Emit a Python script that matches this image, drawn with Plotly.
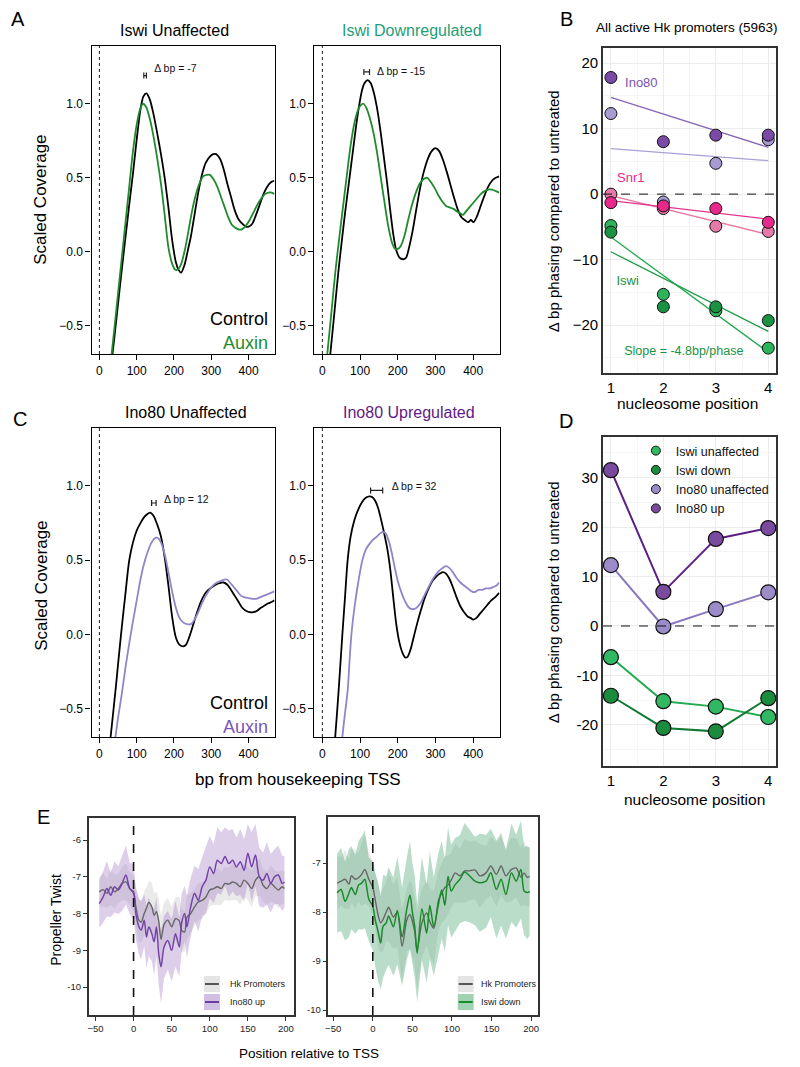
import numpy as np
import plotly.graph_objects as go

W, H = 800, 1067
FONT = "Liberation Sans, Arial, Helvetica, sans-serif"
OFF = 8  # page body margin of the browser

def pxx(x):
    return (x - OFF) / W

def pxy(y):
    return 1 - (y - OFF) / H

# ---------------- Panel A data (Iswi) ----------------
a1_ctrl_x = [30,40,50,60,70,80,90,100,110,118,126,135,145,155,165,175,185,195,205,212,219,228,238,245,255,265,275,285,295,305,313,323,333,343,353,363,373,383,393,400,410,420,430,440,450,460,469]
a1_ctrl_y = [-0.80,-0.58,-0.35,-0.12,0.10,0.32,0.53,0.76,0.96,1.05,1.07,1.03,0.93,0.80,0.66,0.50,0.30,0.08,-0.07,-0.12,-0.14,-0.09,0.02,0.10,0.25,0.40,0.52,0.60,0.64,0.66,0.66,0.63,0.56,0.46,0.37,0.28,0.22,0.19,0.17,0.17,0.19,0.25,0.32,0.39,0.44,0.47,0.48]
a1_aux_x = [28,40,50,60,70,80,90,100,110,117,125,135,145,155,165,175,185,195,203,210,218,228,238,248,258,268,278,288,296,306,316,326,336,346,356,366,376,384,394,404,414,424,434,444,454,462,469]
a1_aux_y = [-0.80,-0.52,-0.28,-0.04,0.20,0.44,0.68,0.86,0.97,1.00,0.98,0.90,0.78,0.63,0.46,0.25,0.03,-0.08,-0.12,-0.12,-0.09,0.00,0.13,0.27,0.38,0.46,0.51,0.52,0.52,0.49,0.44,0.37,0.30,0.23,0.18,0.16,0.15,0.155,0.18,0.22,0.27,0.32,0.36,0.39,0.40,0.40,0.39]

a2_ctrl_x = [15,21,30,43,50,60,72,80,90,97,105,112,120,128,136,145,155,165,172,180,188,196,205,215,222,230,240,250,260,270,280,290,300,310,320,330,340,350,360,370,380,387,394,401,410,420,430,440,450,460,469]
a2_ctrl_y = [-0.84,-0.69,-0.46,-0.12,0.04,0.26,0.50,0.66,0.86,0.98,1.09,1.14,1.16,1.14,1.08,0.97,0.80,0.60,0.46,0.28,0.12,0.01,-0.04,-0.05,-0.04,0.03,0.15,0.30,0.44,0.55,0.63,0.68,0.70,0.68,0.62,0.54,0.45,0.36,0.28,0.23,0.21,0.20,0.215,0.20,0.24,0.31,0.38,0.44,0.48,0.50,0.51]
a2_aux_x = [8,13,25,35,45,55,65,75,85,95,102,109,117,125,135,145,155,165,175,185,193,200,208,218,228,238,248,258,268,278,288,298,308,318,328,338,348,358,366,373,380,390,400,410,420,430,440,450,460,469]
a2_aux_y = [-0.82,-0.69,-0.38,-0.12,0.10,0.31,0.52,0.72,0.87,0.96,0.99,1.00,0.97,0.91,0.81,0.67,0.50,0.33,0.17,0.06,0.02,0.02,0.04,0.11,0.22,0.32,0.40,0.46,0.49,0.50,0.47,0.43,0.38,0.34,0.31,0.30,0.29,0.27,0.26,0.25,0.27,0.30,0.33,0.36,0.39,0.41,0.42,0.42,0.41,0.40]

# ---------------- Panel C data (Ino80) ----------------
c1_ctrl_x = [25,30,43,50,60,70,80,90,100,110,120,128,136,145,155,165,175,185,195,205,215,225,232,242,252,262,272,282,292,302,312,322,333,343,353,363,373,383,393,403,413,423,433,443,453,463,469]
c1_ctrl_y = [-0.82,-0.69,-0.38,-0.20,0.05,0.28,0.50,0.62,0.70,0.75,0.79,0.81,0.82,0.80,0.74,0.66,0.52,0.33,0.12,-0.02,-0.07,-0.08,-0.07,-0.01,0.07,0.15,0.22,0.27,0.30,0.32,0.335,0.345,0.35,0.335,0.30,0.26,0.22,0.18,0.16,0.15,0.15,0.16,0.18,0.195,0.21,0.22,0.23]
c1_aux_x = [38,43,50,60,70,80,90,100,110,120,130,140,150,157,165,175,185,195,205,215,225,235,245,255,265,275,285,295,305,315,325,335,342,350,360,370,380,390,400,410,420,430,440,450,460,469]
c1_aux_y = [-0.78,-0.69,-0.56,-0.40,-0.22,-0.06,0.09,0.23,0.37,0.48,0.56,0.62,0.65,0.65,0.62,0.54,0.42,0.29,0.18,0.11,0.08,0.07,0.07,0.10,0.15,0.21,0.26,0.30,0.33,0.35,0.36,0.37,0.37,0.35,0.32,0.29,0.26,0.25,0.245,0.24,0.24,0.25,0.26,0.27,0.28,0.29]

c2_ctrl_x = [28,34,43,53,60,67,75,85,95,105,115,125,132,140,148,156,164,172,180,188,196,204,212,220,226,234,242,252,262,272,282,292,302,312,320,328,336,346,356,366,376,386,394,400,408,418,428,438,448,458,469]
c2_ctrl_y = [-0.85,-0.69,-0.38,0.0,0.25,0.50,0.66,0.77,0.84,0.89,0.92,0.93,0.925,0.90,0.85,0.77,0.68,0.58,0.44,0.25,0.07,-0.05,-0.12,-0.155,-0.15,-0.10,-0.02,0.08,0.17,0.25,0.31,0.36,0.39,0.41,0.42,0.41,0.38,0.32,0.25,0.19,0.15,0.12,0.11,0.10,0.11,0.14,0.17,0.20,0.23,0.25,0.28]
c2_aux_x = [48,53,60,67,72,77,85,95,106,115,125,135,145,153,160,168,176,184,192,200,210,220,230,240,250,260,270,280,290,300,310,320,328,336,346,356,366,376,386,396,404,414,424,434,444,454,462,469]
c2_aux_y = [-0.85,-0.69,-0.53,-0.38,-0.18,0.0,0.18,0.35,0.50,0.57,0.61,0.64,0.66,0.68,0.69,0.68,0.63,0.55,0.45,0.36,0.28,0.22,0.18,0.17,0.18,0.21,0.26,0.31,0.36,0.40,0.43,0.45,0.46,0.45,0.42,0.38,0.35,0.33,0.31,0.29,0.285,0.30,0.30,0.31,0.31,0.32,0.33,0.35]

# brackets (control peak -> auxin peak) and labels
brk_lo = [119, 110, 140, 128]
brk_hi = [126, 125, 152, 160]
brk_y = [1.19, 1.215, 0.885, 0.97]
delta_text = ["Δ bp = -7", "Δ bp = -15", "Δ bp = 12", "Δ bp = 32"]
delta_x = [147, 145, 173, 184]
delta_y = [1.235, 1.215, 0.905, 0.99]

# ---------------- Panel B data ----------------
nuc_pos = [1, 2, 3, 4]
b_ino80_dark = [17.8, 8.0, 9.0, 9.0]
b_ino80_light = [12.3, -1.2, 4.7, 8.3]
b_snr1_dark = [-1.3, -1.8, -2.2, -4.3]
b_snr1_light = [0.0, -2.2, -4.9, -5.7]
b_iswi_dark = [-5.8, -17.2, -17.2, -19.3]
b_iswi_light = [-4.8, -15.3, -17.8, -23.5]

# ---------------- Panel D data ----------------
d_names = ["Iswi unaffected", "Iswi down", "Ino80 unaffected", "Ino80 up"]
d_iswi_unaff = [-6.3, -15.2, -16.3, -18.4]
d_iswi_down = [-14.1, -20.6, -21.3, -14.6]
d_ino80_unaff = [12.3, -0.1, 3.4, 6.8]
d_ino80_up = [31.5, 6.9, 17.6, 19.8]

# ---------------- Panel E data ----------------
e1_x = [-45,-40,-35,-30,-25,-20,-15,-10,-5,0,3,7,10,14,17,20,24,27,30,33,36,40,45,50,55,60,63,67,70,75,80,85,90,95,100,105,110,115,120,125,130,135,140,145,150,155,160,165,170,175,180,185,190,195,198]
e1_hk = [-7.41,-7.35,-7.45,-7.27,-7.41,-7.32,-7.18,-7.14,-7.32,-7.45,-7.82,-8.18,-8.23,-8.0,-7.85,-7.7,-7.82,-8.05,-7.95,-8.2,-8.7,-8.3,-8.18,-8.36,-8.14,-8.2,-8.45,-8.5,-8.1,-8.0,-7.82,-7.68,-7.64,-7.55,-7.36,-7.32,-7.27,-7.32,-7.18,-7.2,-7.14,-7.18,-7.27,-7.09,-7.18,-7.32,-7.09,-7.0,-7.23,-7.32,-7.18,-7.27,-7.36,-7.27,-7.32]
e1_ino = [-7.73,-7.55,-7.32,-7.5,-7.27,-7.36,-7.18,-6.95,-7.32,-7.41,-8.0,-8.36,-8.45,-8.18,-8.64,-8.36,-8.55,-8.77,-8.36,-9.09,-9.45,-8.91,-8.73,-9.0,-8.55,-8.91,-8.27,-8.0,-8.36,-7.82,-7.45,-7.64,-7.27,-7.09,-6.73,-6.91,-6.55,-6.64,-6.45,-6.64,-6.55,-6.73,-6.59,-6.82,-6.36,-6.73,-6.41,-7.0,-7.09,-6.91,-7.18,-7.0,-6.95,-7.18,-7.14]
e1_hk_hw = [0.4,0.45,0.4,0.5,0.45,0.4,0.45,0.5,0.45,0.5,0.55,0.6,0.55,0.6,0.55,0.6,0.65,0.6,0.55,0.6,0.65,0.6,0.6,0.55,0.6,0.65,0.6,0.55,0.6,0.55,0.5,0.5,0.5,0.45,0.45,0.45,0.5,0.45,0.45,0.45,0.5,0.45,0.5,0.45,0.45,0.5,0.45,0.5,0.45,0.45,0.5,0.45,0.5,0.45,0.45]
e1_ino_hw = [0.65,0.7,0.75,0.6,0.7,0.65,0.75,0.8,0.7,0.75,0.7,0.75,0.8,0.7,0.85,0.8,0.75,0.9,0.8,0.85,1.0,0.85,0.8,0.85,0.9,0.8,0.8,0.75,0.85,0.8,0.75,0.85,0.8,0.9,0.85,0.8,0.9,0.85,0.8,0.9,0.85,0.8,0.9,0.85,0.8,0.95,0.85,0.8,0.75,0.85,0.8,0.75,0.8,0.75,0.7]

e2_x = [-45,-40,-35,-30,-27,-22,-18,-14,-10,-5,0,3,7,10,13,17,20,26,31,37,43,47,50,53,56,62,68,72,77,83,87,91,95,99,104,110,116,122,129,135,143,149,156,162,168,175,181,187,191,195,198]
e2_hk = [-7.41,-7.37,-7.33,-7.43,-7.26,-7.33,-7.3,-7.23,-7.13,-7.33,-7.5,-7.74,-8.08,-8.22,-8.15,-8.0,-7.9,-8.1,-8.0,-8.7,-8.16,-8.05,-8.19,-8.4,-8.78,-8.22,-8.02,-8.2,-8.33,-7.76,-7.62,-7.5,-7.45,-7.35,-7.2,-7.26,-7.16,-7.16,-7.14,-7.26,-7.2,-7.06,-7.23,-7.06,-7.26,-7.13,-7.1,-7.29,-7.2,-7.29,-7.27]
e2_iswi = [-7.61,-7.54,-7.78,-7.61,-7.5,-7.64,-7.45,-7.41,-7.33,-7.74,-7.88,-8.15,-8.42,-8.63,-8.29,-8.22,-8.08,-8.3,-7.97,-8.5,-7.93,-7.65,-8.0,-8.3,-8.84,-7.93,-8.43,-7.86,-8.3,-7.83,-7.55,-7.86,-7.27,-7.57,-7.44,-7.33,-7.18,-7.26,-7.37,-7.4,-7.37,-7.2,-7.54,-7.33,-7.64,-7.2,-7.37,-7.13,-7.57,-7.6,-7.58]
e2_hk_hw = [0.55,0.5,0.6,0.5,0.55,0.6,0.5,0.65,0.7,0.55,0.55,0.6,0.65,0.6,0.65,0.6,0.7,0.65,0.7,0.75,0.65,0.7,0.75,0.7,0.8,0.7,0.65,0.7,0.75,0.6,0.6,0.65,0.6,0.55,0.6,0.55,0.65,0.6,0.6,0.65,0.55,0.6,0.65,0.6,0.55,0.65,0.6,0.6,0.65,0.6,0.6]
e2_iswi_hw = [0.8,0.85,0.8,0.9,0.85,0.8,0.9,0.95,1.0,0.85,0.9,0.95,1.0,0.95,1.05,0.95,1.0,1.0,1.1,1.0,1.05,1.1,1.0,1.05,1.0,1.05,1.0,1.1,1.0,1.05,1.0,0.95,1.0,0.95,0.95,0.9,1.0,0.95,0.9,1.0,0.95,0.9,1.0,0.95,0.9,1.0,0.95,1.0,0.9,0.95,0.9]

# ---------------- Colours ----------------
BLACK = "#000000"
AUX_GREEN = "#1f8b2c"
AUX_PURPLE = "#9384c8"

fig = go.Figure()

def line(x, y, xa, ya, color, width=1.8, shape="spline"):
    fig.add_trace(go.Scatter(x=x, y=y, mode="lines", xaxis=xa, yaxis=ya,
                             line=dict(color=color, width=width, shape=shape, smoothing=0.8),
                             showlegend=False, hoverinfo="skip"))

# coverage panels
cov = [
    ("x", "y", a1_ctrl_x, a1_ctrl_y, a1_aux_x, a1_aux_y, AUX_GREEN),
    ("x2", "y2", a2_ctrl_x, a2_ctrl_y, a2_aux_x, a2_aux_y, AUX_GREEN),
    ("x4", "y4", c1_ctrl_x, c1_ctrl_y, c1_aux_x, c1_aux_y, AUX_PURPLE),
    ("x5", "y5", c2_ctrl_x, c2_ctrl_y, c2_aux_x, c2_aux_y, AUX_PURPLE),
]
for i, (xa, ya, cx, cy, ax, ay, col) in enumerate(cov):
    line(cx, cy, xa, ya, BLACK, 1.8)
    line(ax, ay, xa, ya, col, 1.8)
    lo, hi = brk_lo[i], brk_hi[i]
    fig.add_trace(go.Scatter(x=[(lo + hi) / 2], y=[brk_y[i]], mode="markers", xaxis=xa, yaxis=ya,
                             marker=dict(size=1, color="rgba(0,0,0,0)"),
                             error_x=dict(type="data", array=[(hi - lo) / 2], width=3,
                                          thickness=1.2, color="#222"),
                             showlegend=False, hoverinfo="skip"))
    fig.add_trace(go.Scatter(x=[delta_x[i]], y=[delta_y[i]], mode="text", xaxis=xa, yaxis=ya,
                             text=[delta_text[i]], textposition="middle right",
                             textfont=dict(size=10.5, color="#111", family=FONT),
                             showlegend=False, hoverinfo="skip"))

# ---------------- Panel B ----------------
b_series = [
    (b_ino80_light, "#a79bd2", "#ab9fd8"),
    (b_ino80_dark, "#7b4aa6", "#8767b8"),
    (b_snr1_light, "#e57aa8", "#e8779f"),
    (b_snr1_dark, "#e8288a", "#e3338e"),
    (b_iswi_light, "#2db35c", "#21a84e"),
    (b_iswi_dark, "#1a9243", "#1f9a46"),
]
for vals, mcol, lcol in b_series:
    k, b0 = np.polyfit(nuc_pos, vals, 1)
    fx = np.array([nuc_pos[0], nuc_pos[-1]], dtype=float)
    fig.add_trace(go.Scatter(x=fx, y=k * fx + b0, mode="lines", xaxis="x3", yaxis="y3",
                             line=dict(color=lcol, width=1.3), showlegend=False, hoverinfo="skip"))
for vals, mcol, lcol in b_series:
    fig.add_trace(go.Scatter(x=nuc_pos, y=vals, mode="markers", xaxis="x3", yaxis="y3",
                             marker=dict(size=12, color=mcol, line=dict(color="#111", width=1)),
                             showlegend=False, hoverinfo="skip"))

b_labels = [("Ino80", 1.58, 16.9, "#7d4fb0"), ("Snr1", 1.38, 2.4, "#e8288a"),
            ("Iswi", 1.32, -13.4, "#1a9243")]
for t, lx, ly, c in b_labels:
    fig.add_trace(go.Scatter(x=[lx], y=[ly], mode="text", text=[t], xaxis="x3", yaxis="y3",
                             textfont=dict(size=13, color=c, family=FONT),
                             showlegend=False, hoverinfo="skip"))
fig.add_trace(go.Scatter(x=[2.39], y=[-24.0], mode="text", text=["Slope = -4.8bp/phase"],
                         xaxis="x3", yaxis="y3", textfont=dict(size=12.5, color="#1a9243", family=FONT),
                         showlegend=False, hoverinfo="skip"))

# ---------------- Panel D ----------------
d_series = [
    (d_iswi_unaff, "#30b862", "#22ab50"),
    (d_iswi_down, "#1b8c3e", "#137a33"),
    (d_ino80_unaff, "#9c8bc9", "#8a77c2"),
    (d_ino80_up, "#7a4a9e", "#5a1e84"),
]
for vals, mcol, lcol in d_series:
    fig.add_trace(go.Scatter(x=nuc_pos, y=vals, mode="lines", xaxis="x6", yaxis="y6",
                             line=dict(color=lcol, width=2), showlegend=False, hoverinfo="skip"))
for vals, mcol, lcol in d_series:
    fig.add_trace(go.Scatter(x=nuc_pos, y=vals, mode="markers", xaxis="x6", yaxis="y6",
                             marker=dict(size=15, color=mcol, line=dict(color="#111", width=1.2)),
                             showlegend=False, hoverinfo="skip"))
for name, (vals, mcol, lcol) in zip(d_names, d_series):
    fig.add_trace(go.Scatter(x=[None], y=[None], mode="markers", xaxis="x6", yaxis="y6", name=name,
                             marker=dict(size=9, color=mcol, line=dict(color="#111", width=1)),
                             showlegend=True))

# ---------------- Panel E ----------------
def ribbon(x, y, hw, xa, ya, color):
    y = np.array(y); hw = np.array(hw)
    up = y + hw; lo = y - hw
    fig.add_trace(go.Scatter(x=list(x) + list(x)[::-1], y=list(up) + list(lo)[::-1],
                             mode="lines", fill="toself", fillcolor=color, line=dict(width=0),
                             xaxis=xa, yaxis=ya, showlegend=False, hoverinfo="skip"))

ribbon(e1_x, e1_hk, e1_hk_hw, "x7", "y7", "rgba(222,222,222,0.65)")
ribbon(e1_x, e1_ino, e1_ino_hw, "x7", "y7", "rgba(165,130,200,0.38)")
line(e1_x, e1_hk, "x7", "y7", "#666666", 1.4)
line(e1_x, e1_ino, "x7", "y7", "#7444a8", 1.5)

ribbon(e2_x, e2_hk, e2_hk_hw, "x8", "y8", "rgba(222,222,222,0.65)")
ribbon(e2_x, e2_iswi, e2_iswi_hw, "x8", "y8", "rgba(70,165,110,0.38)")
line(e2_x, e2_hk, "x8", "y8", "#666666", 1.4)
line(e2_x, e2_iswi, "x8", "y8", "#1a8a2a", 1.5)

# ---------------- Axes ----------------
def cov_x(l, r, anchor):
    return dict(domain=[pxx(l), pxx(r)], range=[-21, 470], tickvals=[0, 100, 200, 300, 400],
                showline=True, linecolor="black", linewidth=1.3, mirror=True, ticks="outside",
                ticklen=5, tickcolor="black", showgrid=False, zeroline=False,
                tickfont=dict(size=12, color="black", family=FONT), anchor=anchor)

def cov_y(t, b, anchor):
    return dict(domain=[pxy(b), pxy(t)], range=[-0.69, 1.39], tickvals=[-0.5, 0, 0.5, 1.0],
                ticktext=["−0.5", "0.0", "0.5", "1.0"], showline=True, linecolor="black",
                linewidth=1.3, mirror=True, ticks="outside", ticklen=5, tickcolor="black",
                showgrid=False, zeroline=False, tickfont=dict(size=12, color="black", family=FONT),
                anchor=anchor)

def nuc_x(anchor):
    return dict(domain=[pxx(603), pxx(777)], range=[0.85, 4.15], tickvals=[1, 2, 3, 4],
                showline=True, linecolor="#333", linewidth=1.6, mirror=True, ticks="",
                showgrid=True, gridcolor="#ececec", gridwidth=1, zeroline=False,
                minor=dict(tickvals=[1.5, 2.5, 3.5], showgrid=True, gridcolor="#f5f5f5"),
                tickfont=dict(size=15, color="black", family=FONT), anchor=anchor)

def nuc_y(t, b, rng, tv, tt, anchor, minor_vals):
    return dict(domain=[pxy(b), pxy(t)], range=rng, tickvals=tv, ticktext=tt,
                showline=True, linecolor="#333", linewidth=1.6, mirror=True, ticks="",
                showgrid=True, gridcolor="#ececec", zeroline=False,
                minor=dict(tickvals=minor_vals, showgrid=True, gridcolor="#f5f5f5"),
                tickfont=dict(size=15, color="black", family=FONT), anchor=anchor)

def e_x(l, r, rng, anchor):
    return dict(domain=[pxx(l), pxx(r)], range=rng, tickvals=[-50, 0, 50, 100, 150, 200],
                showline=True, linecolor="#333", linewidth=1.5, mirror=True, ticks="outside",
                ticklen=4, tickcolor="#333", showgrid=False, zeroline=False,
                tickfont=dict(size=9.5, color="#222", family=FONT), anchor=anchor)

def e_y(t, b, rng, tv, anchor):
    return dict(domain=[pxy(b), pxy(t)], range=rng, tickvals=tv, ticktext=[str(v) for v in tv],
                showline=True, linecolor="#333", linewidth=1.5, mirror=True, ticks="outside",
                ticklen=4, tickcolor="#333", showgrid=False, zeroline=False,
                tickfont=dict(size=9.5, color="#222", family=FONT), anchor=anchor)

layout = dict(
    width=W, height=H, autosize=False, margin=dict(l=0, r=0, t=0, b=0),
    paper_bgcolor="white", plot_bgcolor="white",
    font=dict(family=FONT, color="black"),
    xaxis=cov_x(89, 273, "y"), yaxis=cov_y(46, 354, "x"),
    xaxis2=cov_x(313, 499, "y2"), yaxis2=cov_y(46, 354, "x2"),
    xaxis3=nuc_x("y3"),
    yaxis3=nuc_y(48, 373, [-27.3, 22.3], [-20, -10, 0, 10, 20], ["−20", "−10", "0", "10", "20"], "x3",
                 [-25, -15, -5, 5, 15]),
    xaxis4=cov_x(89, 273, "y4"), yaxis4=cov_y(428, 737, "x4"),
    xaxis5=cov_x(313, 499, "y5"), yaxis5=cov_y(428, 737, "x5"),
    xaxis6=nuc_x("y6"),
    yaxis6=nuc_y(437, 766, [-28.3, 38.2], [-20, -10, 0, 10, 20, 30], ["-20", "-10", "0", "10", "20", "30"],
                 "x6", [-25, -15, -5, 5, 15, 25, 35]),
    xaxis7=e_x(86, 292, [-59, 210], "y7"), yaxis7=e_y(818, 1015, [-10.76, -5.4], [-10, -9, -8, -7, -6], "x7"),
    xaxis8=e_x(327, 538, [-56, 209], "y8"), yaxis8=e_y(817, 1015, [-10.1, -6.06], [-10, -9, -8, -7], "x8"),
    showlegend=True,
    legend=dict(x=pxx(636), y=pxy(436), xanchor="left", yanchor="top", bgcolor="rgba(0,0,0,0)",
                font=dict(size=12.5, family=FONT, color="#111"), tracegroupgap=0, itemwidth=30),
)
fig.update_layout(**layout)

shapes = []
for xa, ya in [("x", "y"), ("x2", "y2"), ("x4", "y4"), ("x5", "y5")]:
    shapes.append(dict(type="line", xref=xa, yref=ya + " domain", x0=0, x1=0, y0=0, y1=1,
                       line=dict(color="#333", width=1.1, dash="dot")))
for xa, ya in [("x3", "y3"), ("x6", "y6")]:
    shapes.append(dict(type="line", xref=xa + " domain", yref=ya, x0=0, x1=1, y0=0, y1=0,
                       line=dict(color="#111", width=1, dash="dash")))
for xa, ya in [("x7", "y7"), ("x8", "y8")]:
    shapes.append(dict(type="line", xref=xa, yref=ya + " domain", x0=0, x1=0, y0=0, y1=1,
                       line=dict(color="#111", width=1.6, dash="dash")))

# E legends (paper px)
def leg_item(x0, ytop, fill, lcol):
    shapes.append(dict(type="rect", xref="paper", yref="paper", x0=pxx(x0), x1=pxx(x0 + 16),
                       y0=pxy(ytop + 16), y1=pxy(ytop), fillcolor=fill, line=dict(width=0)))
    shapes.append(dict(type="line", xref="paper", yref="paper", x0=pxx(x0 + 1), x1=pxx(x0 + 15),
                       y0=pxy(ytop + 8), y1=pxy(ytop + 8), line=dict(color=lcol, width=2)))

leg_item(202, 976, "rgba(228,228,228,1)", "#555555")
leg_item(202, 994, "rgba(210,192,228,1)", "#6b3fa0")
leg_item(457, 976, "rgba(228,228,228,1)", "#555555")
leg_item(457, 994, "rgba(160,210,180,1)", "#1a8a2a")
fig.update_layout(shapes=shapes)

ann = []
def txt(t, x, y, size, color="black", xanchor="center", angle=0, yanchor="middle"):
    ann.append(dict(text=t, x=pxx(x), y=pxy(y), xref="paper", yref="paper", showarrow=False,
                    xanchor=xanchor, yanchor=yanchor, textangle=angle,
                    font=dict(size=size, color=color, family=FONT)))

# panel letters
txt("A", 15, 19, 20); txt("B", 566, 19, 20); txt("C", 17, 419, 20)
txt("D", 566, 421, 20); txt("E", 41, 817, 20)
# titles
txt("Iswi Unaffected", 172, 30, 16)
txt("Iswi Downregulated", 411, 30, 16, "#1f9e78")
txt("Ino80 Unaffected", 184, 412, 16)
txt("Ino80 Upregulated", 408, 412, 16, "#5f1a82")
txt("All active Hk promoters (5963)", 687, 28, 13.5)
# axis titles
txt("Scaled Coverage", 38, 200, 17, angle=-90)
txt("Scaled Coverage", 38, 586, 17, angle=-90)
txt("bp from housekeeping TSS", 296, 779, 17)
txt("Δ bp phasing compared to untreated", 553, 211, 15, angle=-90)
txt("Δ bp phasing compared to untreated", 553, 602, 15, angle=-90)
txt("nucleosome position", 688, 403, 15.5)
txt("nucleosome position", 695, 799, 15.5)
txt("Propeller Twist", 53, 920, 14, angle=-90)
txt("Position relative to TSS", 307, 1053, 13.5)
# Control / Auxin keys
txt("Control", 268, 319, 18, xanchor="right")
txt("Auxin", 268, 343, 18, AUX_GREEN, xanchor="right")
txt("Control", 268, 703, 18, xanchor="right")
txt("Auxin", 268, 727, 18, "#7b55b5", xanchor="right")
# E legend labels
txt("Hk Promoters", 226, 984, 9, "#222", xanchor="left")
txt("Ino80 up", 226, 1002, 9, "#222", xanchor="left")
txt("Hk Promoters", 478, 984, 9, "#222", xanchor="left")
txt("Iswi down", 478, 1002, 9, "#222", xanchor="left")
fig.update_layout(annotations=ann)

fig.write_html("out.html")
